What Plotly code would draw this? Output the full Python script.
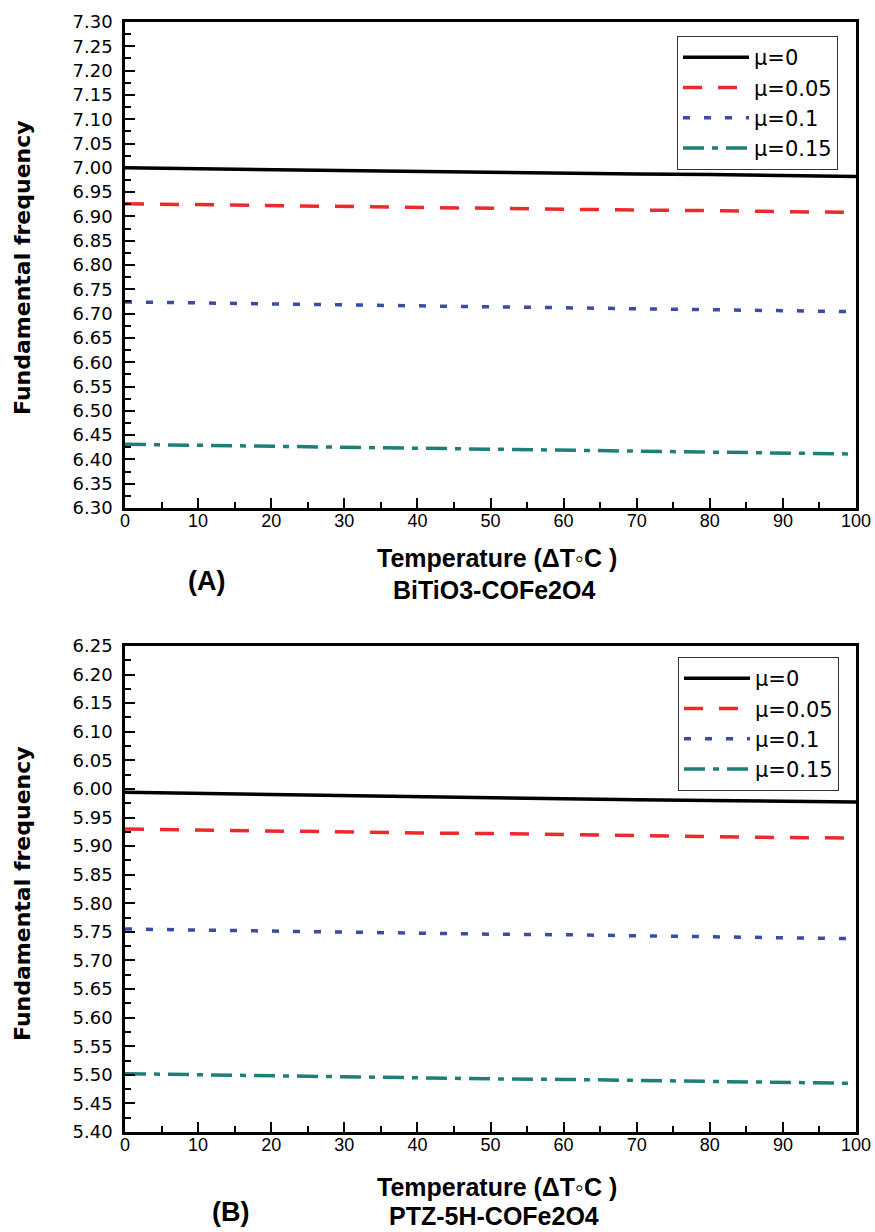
import plotly.graph_objects as go

# Temperature rise (°C)
temperature = [0, 10, 20, 30, 40, 50, 60, 70, 80, 90, 100]

mu_labels = ["\u03bc=0", "\u03bc=0.05", "\u03bc=0.1", "\u03bc=0.15"]

# (A) BiTiO3-CoFe2O4 fundamental frequency
freq_a_mu0 = [7.000, 6.998, 6.996, 6.995, 6.993, 6.991, 6.989, 6.987, 6.986, 6.984, 6.982]
freq_a_mu005 = [6.926, 6.924, 6.922, 6.921, 6.919, 6.917, 6.915, 6.913, 6.912, 6.910, 6.908]
freq_a_mu01 = [6.724, 6.722, 6.720, 6.718, 6.716, 6.714, 6.712, 6.710, 6.708, 6.706, 6.704]
freq_a_mu015 = [6.431, 6.429, 6.427, 6.425, 6.423, 6.421, 6.419, 6.417, 6.415, 6.413, 6.411]

# (B) PTZ-5H-CoFe2O4 fundamental frequency
freq_b_mu0 = [5.994, 5.992, 5.990, 5.989, 5.987, 5.985, 5.983, 5.981, 5.980, 5.978, 5.977]
freq_b_mu005 = [5.930, 5.928, 5.926, 5.925, 5.923, 5.922, 5.920, 5.918, 5.917, 5.915, 5.914]
freq_b_mu01 = [5.755, 5.753, 5.751, 5.750, 5.748, 5.746, 5.745, 5.743, 5.741, 5.740, 5.738]
freq_b_mu015 = [5.502, 5.500, 5.498, 5.497, 5.495, 5.493, 5.492, 5.490, 5.488, 5.487, 5.485]

series_a = [freq_a_mu0, freq_a_mu005, freq_a_mu01, freq_a_mu015]
series_b = [freq_b_mu0, freq_b_mu005, freq_b_mu01, freq_b_mu015]

colors = ["#000000", "#ec2a2c", "#3b4ba6", "#1e7f78"]
dashes = ["solid", "19px,16px", "7px,14px", "21px,8px,6px,8px"]

W, H = 875, 1232
L, R, T, B = 125, 19, 22, 100
PW = W - L - R
PH = H - T - B


def px(x):
    return (x - L) / PW


def py(y):
    return (H - B - y) / PH


fig = go.Figure()

for vals, name, c, d in zip(series_a, mu_labels, colors, dashes):
    fig.add_trace(go.Scatter(x=temperature, y=vals, mode="lines", name=name,
                             line=dict(color=c, width=3.5, dash=d),
                             xaxis="x", yaxis="y", legend="legend"))
for vals, name, c, d in zip(series_b, mu_labels, colors, dashes):
    fig.add_trace(go.Scatter(x=temperature, y=vals, mode="lines", name=name,
                             line=dict(color=c, width=3.5, dash=d),
                             xaxis="x2", yaxis="y2", legend="legend2"))

tickfont_x = dict(family="Liberation Sans, Arial, sans-serif", size=18, color="#000")
tickfont_y = dict(family="DejaVu Sans, sans-serif", size=18, color="#000")

xcommon = dict(range=[0, 100], dtick=10, ticks="inside", ticklen=10, tickwidth=2,
               tickcolor="#000", showline=True, linecolor="#000", linewidth=2.5,
               mirror=True, showgrid=False, zeroline=False, tickfont=tickfont_x,
               automargin=False, ticklabelstandoff=-5,
               minor=dict(dtick=5, ticks="inside", ticklen=6, tickwidth=2, tickcolor="#000"))


def ycommon(lo, hi):
    return dict(range=[lo, hi], dtick=0.05, tickformat=".2f", ticks="inside", ticklen=10,
                tickwidth=2, tickcolor="#000", showline=True, linecolor="#000",
                linewidth=2.5, mirror=True, showgrid=False, zeroline=False,
                tickfont=tickfont_y, ticklabelstandoff=6, automargin=False,
                minor=dict(dtick=0.025, ticks="inside", ticklen=6, tickwidth=2,
                           tickcolor="#000"))


def frame_ticks(over, side, anchor, rng, step):
    return dict(overlaying=over, side=side, anchor=anchor, range=rng, dtick=step,
                ticks="inside", ticklen=5, tickwidth=2, tickcolor="#000",
                showticklabels=False, showline=False, showgrid=False,
                zeroline=False, automargin=False)


dom_a = [py(508), 1.0]
dom_b = [0.0, py(646)]

fig.update_layout(
    width=W, height=H,
    margin=dict(l=L, r=R, t=T, b=B, autoexpand=False),
    paper_bgcolor="white", plot_bgcolor="white",
    showlegend=True,
    xaxis=dict(xcommon, anchor="y", domain=[0, 1]),
    yaxis=dict(ycommon(6.30, 7.30), anchor="x", domain=dom_a),
    xaxis2=dict(xcommon, anchor="y2", domain=[0, 1]),
    yaxis2=dict(ycommon(5.40, 6.25), anchor="x2", domain=dom_b),
    # tick marks along the top and right frame edges
    xaxis3=frame_ticks("x", "top", "y", [0, 100], 10),
    yaxis3=frame_ticks("y", "right", "x", [6.30, 7.30], 0.1),
    xaxis4=frame_ticks("x2", "top", "y2", [0, 100], 5),
    yaxis4=frame_ticks("y2", "right", "x2", [5.40, 6.25], 0.025),
    legend=dict(x=px(838), xanchor="right", y=py(36), yanchor="top",
                bgcolor="white", bordercolor="#333", borderwidth=1,
                font=dict(family="DejaVu Sans, sans-serif", size=21, color="#000"),
                itemwidth=66, tracegroupgap=0),
    legend2=dict(x=px(839), xanchor="right", y=py(657), yanchor="top",
                 bgcolor="white", bordercolor="#333", borderwidth=1,
                 font=dict(family="DejaVu Sans, sans-serif", size=21, color="#000"),
                 itemwidth=66, tracegroupgap=0),
)

arial = "Liberation Sans, Arial, sans-serif"
f_title = dict(family=arial, size=25, color="#000")
f_material = dict(family=arial, size=25, color="#000")
f_panel = dict(family=arial, size=27, color="#000")
f_ytitle = dict(family="DejaVu Sans, sans-serif", size=22, color="#000")

notes = [
    ("<b>Temperature (\u0394T\u25e6C )</b>", 497, 558, f_title, 0),
    ("<b>BiTiO3-COFe2O4</b>", 494, 590, f_material, 0),
    ("<b>(A)</b>", 206, 581, f_panel, 0),
    ("<b>Temperature (\u0394T\u25e6C )</b>", 497, 1187, f_title, 0),
    ("<b>PTZ-5H-COFe2O4</b>", 494, 1216, f_material, 0),
    ("<b>(B)</b>", 230, 1212, f_panel, 0),
    ("<b>Fundamental frequency</b>", 22, 267, f_ytitle, -90),
    ("<b>Fundamental frequency</b>", 22, 893, f_ytitle, -90),
]
for text, x, y, f, ang in notes:
    fig.add_annotation(text=text, x=px(x), y=py(y), xref="paper", yref="paper",
                       xanchor="center", yanchor="middle", showarrow=False,
                       font=f, textangle=ang)

fig.write_html("out.html")
